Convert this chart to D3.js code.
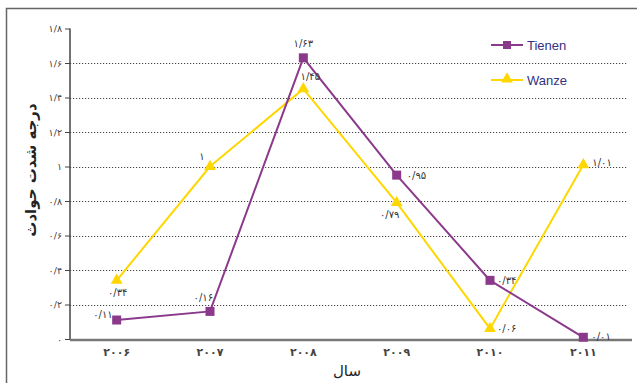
<!DOCTYPE html>
<html><head><meta charset="utf-8">
<script src="https://cdn.jsdelivr.net/npm/d3@7"></script>
<style>body{margin:0;background:#fff}svg{display:block}</style>
</head><body>
<svg id="c" width="637" height="383"></svg>
<script>
const years = ["۲۰۰۶","۲۰۰۷","۲۰۰۸","۲۰۰۹","۲۰۱۰","۲۰۱۱"];
const tienen = [0.11, 0.16, 1.63, 0.95, 0.34, 0.01];
const wanze = [0.34, 1.00, 1.45, 0.79, 0.06, 1.01];
const tienenLabels = ["۰/۱۱","۰/۱۶","۱/۶۳","۰/۹۵","۰/۳۴","۰/۰۱"];
const wanzeLabels = ["۰/۳۴","۱","۱/۴۵","۰/۷۹","۰/۰۶","۱/۰۱"];
const yTicks = [0,0.2,0.4,0.6,0.8,1,1.2,1.4,1.6,1.8];
const yTickLabels = ["۰","۰/۲","۰/۴","۰/۶","۰/۸","۱","۱/۲","۱/۴","۱/۶","۱/۸"];
const seriesNames = ["Tienen","Wanze"];

// label placement (style)
const tOff = [[-4,-2,"end"],[3,-10,"end"],[0,-11,"middle"],[10,4,"start"],[7,4,"start"],[8,3,"start"]];
const wOff = [[1,16,"middle"],[-8,-7,"middle"],[7,-9,"middle"],[-7,15,"middle"],[7,3,"start"],[9,1,"start"]];

const svg = d3.select("#c");
const fontFa = "'DejaVu Sans', 'Noto Sans', sans-serif";
const colT = "#8B3A8B", colW = "#FFD700";

// frame
svg.append("rect").attr("x",6.5).attr("y",8.5).attr("width",700).attr("height",500)
  .attr("fill","none").attr("stroke","#666").attr("stroke-width",1.5);

const x = d3.scaleBand().domain(years).range([70,630]);
const y = d3.scaleLinear().domain([0,1.8]).range([339,28.5]);

// gridlines
svg.append("g").selectAll("line").data(yTicks.filter(v=>v>0 && v<1.79)).join("line")
  .attr("x1",70).attr("x2",628).attr("y1",d=>Math.round(y(d))+0.5).attr("y2",d=>Math.round(y(d))+0.5)
  .attr("stroke","#444").attr("stroke-width",1).attr("stroke-dasharray","1.2,1.8");

// y axis
const yAxis = d3.axisLeft(y).tickValues(yTicks).tickSize(5).tickFormat((d,i)=>yTickLabels[i]);
const gy = svg.append("g").attr("transform","translate(70,0)").call(yAxis);
gy.select(".domain").attr("stroke","#444").attr("stroke-width",1.5).attr("d","M0,28.5V339");
gy.selectAll(".tick line").attr("stroke","#444");
gy.selectAll(".tick text").attr("font-family",fontFa).attr("font-size",9.5).attr("fill","#444")
  .attr("letter-spacing",1).attr("x",-8);

// x axis
const xAxis = d3.axisBottom(x).tickSize(0).tickFormat(d=>d);
const gx = svg.append("g").attr("transform","translate(0,340)").call(xAxis);
gx.select(".domain").attr("stroke","#777").attr("stroke-width",2.5).attr("d","M70,0H632");
gx.selectAll(".tick text").attr("font-family",fontFa).attr("font-size",11).attr("fill","#444")
  .attr("letter-spacing",3).attr("y",8).attr("font-weight","bold");

// axis titles
svg.append("text").attr("x",347).attr("y",376).attr("text-anchor","middle")
  .attr("font-family",fontFa).attr("font-size",15).attr("fill","#222").text("سال");
svg.append("text").attr("transform","translate(36,170) rotate(-90)").attr("text-anchor","middle")
  .attr("font-family",fontFa).attr("font-size",15).attr("font-weight","bold").attr("fill","#222").text("درجه شدت حوادث");

const cx = i => x(years[i]) + x.bandwidth()/2;
const line = d3.line().x((d,i)=>cx(i)).y(d=>y(d));

svg.append("path").datum(wanze).attr("d",line).attr("fill","none").attr("stroke",colW).attr("stroke-width",2);
svg.append("path").datum(tienen).attr("d",line).attr("fill","none").attr("stroke",colT).attr("stroke-width",2);

const tri = d3.symbol().type(d3.symbolTriangle).size(60);
svg.append("g").selectAll("path").data(wanze).join("path")
  .attr("d",tri).attr("transform",(d,i)=>`translate(${cx(i)},${y(d)})`).attr("fill",colW);
svg.append("g").selectAll("rect").data(tienen).join("rect")
  .attr("x",(d,i)=>cx(i)-4.5).attr("y",d=>y(d)-4.5).attr("width",9).attr("height",9).attr("fill",colT);

function labels(vals, labs, off){
  svg.append("g").selectAll("text").data(vals).join("text")
    .attr("x",(d,i)=>cx(i)+off[i][0]).attr("y",(d,i)=>y(d)+off[i][1])
    .attr("text-anchor",(d,i)=>off[i][2])
    .attr("font-family",fontFa).attr("font-size",10).attr("fill","#333").attr("letter-spacing",1.5)
    .text((d,i)=>labs[i]);
}
labels(tienen, tienenLabels, tOff);
labels(wanze, wanzeLabels, wOff);

// legend
const lg = svg.append("g");
const legY = [45, 80];
seriesNames.forEach((n,i)=>{
  const c = i===0?colT:colW;
  lg.append("line").attr("x1",491).attr("x2",523).attr("y1",legY[i]).attr("y2",legY[i]).attr("stroke",c).attr("stroke-width",2);
  if(i===0){
    lg.append("rect").attr("x",503).attr("y",legY[i]-4).attr("width",8).attr("height",8).attr("fill",c);
  } else {
    lg.append("path").attr("d",tri).attr("transform",`translate(507,${legY[i]-1})`).attr("fill",c);
  }
  lg.append("text").attr("x",527).attr("y",legY[i]+5).attr("font-family","'Liberation Sans', Arial, sans-serif")
    .attr("font-size",13).attr("fill","#333380").text(n);
});
</script>
</body></html>
